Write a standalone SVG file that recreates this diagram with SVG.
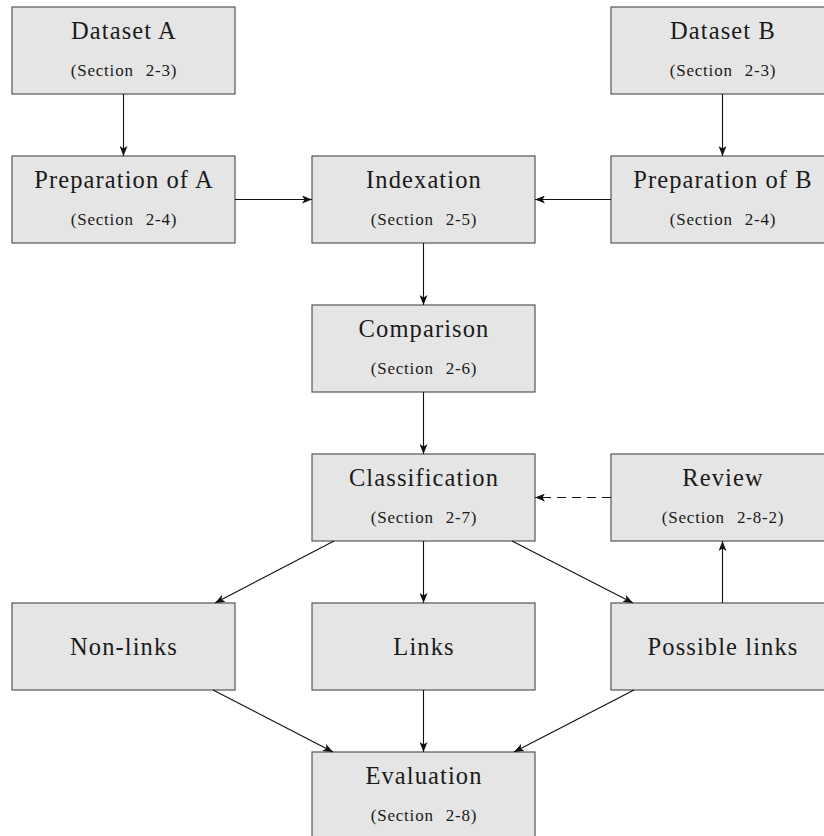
<svg xmlns="http://www.w3.org/2000/svg" width="824" height="836" viewBox="0 0 824 836">
<style>
.box{fill:#e5e5e5;stroke:#555;stroke-width:1.2}
.t{font-family:"Liberation Serif","Times New Roman",serif;font-size:24.5px;letter-spacing:1.1px;fill:#1a1a1a;text-anchor:middle}
.s{font-family:"Liberation Serif","Times New Roman",serif;font-size:17px;letter-spacing:0.8px;word-spacing:7px;fill:#1a1a1a;text-anchor:middle}
.c{stroke:#111;stroke-width:1.1;fill:none;marker-end:url(#ah)}
.d{stroke-dasharray:9,6}
</style>
<defs>
<marker id="ah" markerUnits="userSpaceOnUse" viewBox="0 0 10 8" refX="10" refY="4" markerWidth="10" markerHeight="8" orient="auto">
<path d="M0,0 L10,4 L0,8 L2.5,4 z" fill="#111"/>
</marker>
</defs>
<g id="datasetA"><rect class="box" x="12" y="7" width="223" height="87"/><text class="t" x="124" y="39">Dataset A</text><text class="s" x="124" y="75.5">(Section 2-3)</text></g>
<g id="datasetB"><rect class="box" x="611" y="7" width="223" height="87"/><text class="t" x="723" y="39">Dataset B</text><text class="s" x="723" y="75.5">(Section 2-3)</text></g>
<g id="prepA"><rect class="box" x="12" y="156" width="223" height="87"/><text class="t" x="124" y="188">Preparation of A</text><text class="s" x="124" y="224.5">(Section 2-4)</text></g>
<g id="indexation"><rect class="box" x="312" y="156" width="223" height="87"/><text class="t" x="424" y="188">Indexation</text><text class="s" x="424" y="224.5">(Section 2-5)</text></g>
<g id="prepB"><rect class="box" x="611" y="156" width="223" height="87"/><text class="t" x="723" y="188">Preparation of B</text><text class="s" x="723" y="224.5">(Section 2-4)</text></g>
<g id="comparison"><rect class="box" x="312" y="305" width="223" height="87"/><text class="t" x="424" y="337">Comparison</text><text class="s" x="424" y="373.5">(Section 2-6)</text></g>
<g id="classification"><rect class="box" x="312" y="454" width="223" height="87"/><text class="t" x="424" y="486">Classification</text><text class="s" x="424" y="522.5">(Section 2-7)</text></g>
<g id="review"><rect class="box" x="611" y="454" width="223" height="87"/><text class="t" x="723" y="486">Review</text><text class="s" x="723" y="522.5">(Section 2-8-2)</text></g>
<g id="nonlinks"><rect class="box" x="12" y="603" width="223" height="87"/><text class="t" x="124" y="655">Non-links</text></g>
<g id="links"><rect class="box" x="312" y="603" width="223" height="87"/><text class="t" x="424" y="655">Links</text></g>
<g id="possible"><rect class="box" x="611" y="603" width="223" height="87"/><text class="t" x="723" y="655">Possible links</text></g>
<g id="evaluation"><rect class="box" x="312" y="752" width="223" height="87"/><text class="t" x="424" y="784">Evaluation</text><text class="s" x="424" y="820.5">(Section 2-8)</text></g>
<g id="connectors">
<path class="c" d="M123.5,94 L123.5,156"/>
<path class="c" d="M722.5,94 L722.5,156"/>
<path class="c" d="M235,199.5 L312,199.5"/>
<path class="c" d="M611,199.5 L535,199.5"/>
<path class="c" d="M423.5,243 L423.5,305"/>
<path class="c" d="M423.5,392 L423.5,454"/>
<path class="c d" d="M611,497.5 L535,497.5"/>
<path class="c" d="M334,541 L215,603"/>
<path class="c" d="M423.5,541 L423.5,603"/>
<path class="c" d="M512,541 L633,603"/>
<path class="c" d="M722.5,603 L722.5,541"/>
<path class="c" d="M213,690 L333,752"/>
<path class="c" d="M423.5,690 L423.5,752"/>
<path class="c" d="M634,690 L514,752"/>
</g>
</svg>
